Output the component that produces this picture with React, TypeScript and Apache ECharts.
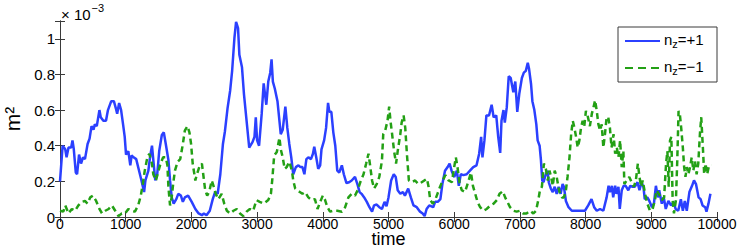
import React, { useEffect, useRef } from "react";
import * as echarts from "echarts";

// time axis ticks
const xTicks = [0, 1000, 2000, 3000, 4000, 5000, 6000, 7000, 8000, 9000, 10000];
const yTickLabels = ["0", "0.2", "0.4", "0.6", "0.8", "1"];

// n_z = +1 (values in units of 1e-3)
const tPlus = [0,40,80,100,130,170,190,210,240,260,290,320,350,380,420,450,480,510,530,560,600,620,660,700,730,780,820,850,870,900,930,960,985,1005,1040,1070,1090,1120,1160,1210,1240,1280,1300,1345,1370,1400,1420,1450,1480,1510,1550,1580,1610,1650,1675,1700,1730,1770,1800,1840,1870,1900,1950,2005,2060,2110,2160,2190,2230,2280,2325,2360,2400,2440,2480,2510,2550,2590,2620,2655,2680,2710,2730,2770,2800,2840,2880,2930,2960,2980,3000,3030,3070,3100,3140,3170,3200,3220,3240,3270,3310,3340,3360,3390,3430,3460,3490,3520,3550,3590,3630,3660,3690,3720,3750,3780,3820,3850,3870,3900,3930,3960,3980,4020,4050,4080,4100,4130,4160,4190,4220,4250,4290,4320,4360,4400,4440,4490,4530,4560,4590,4630,4670,4710,4750,4780,4820,4860,4900,4940,4970,5000,5040,5080,5110,5140,5180,5220,5250,5300,5340,5380,5430,5480,5520,5550,5580,5620,5680,5710,5750,5790,5820,5860,5900,5930,5960,6000,6040,6070,6100,6140,6190,6240,6290,6340,6380,6410,6430,6460,6490,6530,6570,6600,6640,6670,6700,6720,6750,6770,6800,6830,6860,6900,6930,6960,6990,7030,7060,7090,7120,7140,7170,7190,7220,7250,7270,7300,7320,7340,7360,7390,7420,7440,7470,7500,7530,7560,7590,7620,7650,7670,7700,7740,7790,7840,7920,7990,8040,8090,8130,8170,8220,8270,8320,8350,8370,8400,8420,8450,8470,8500,8520,8550,8580,8610,8650,8680,8710,8750,8790,8820,8850,8880,8900,8940,8970,9010,9040,9070,9100,9120,9160,9190,9220,9260,9300,9340,9370,9410,9450,9480,9510,9540,9580,9620,9650,9680,9720,9750,9780,9820,9840,9870,9900];
const vPlus = [0.2,0.4,0.38,0.335,0.39,0.39,0.43,0.38,0.25,0.24,0.35,0.3,0.335,0.325,0.41,0.44,0.51,0.49,0.52,0.51,0.6,0.56,0.54,0.54,0.6,0.65,0.65,0.61,0.58,0.64,0.6,0.52,0.45,0.35,0.37,0.29,0.345,0.335,0.325,0.25,0.205,0.14,0.205,0.26,0.335,0.4,0.32,0.205,0.24,0.37,0.46,0.475,0.41,0.32,0.205,0.11,0.075,0.1,0.13,0.12,0.085,0.11,0.12,0.085,0.045,0.02,0.01,0.02,0.01,0.035,0.1,0.14,0.13,0.24,0.41,0.48,0.61,0.71,0.82,1.005,1.095,1.06,0.91,0.84,0.69,0.54,0.39,0.42,0.45,0.56,0.43,0.4,0.58,0.75,0.63,0.76,0.81,0.885,0.76,0.72,0.65,0.54,0.465,0.49,0.62,0.5,0.41,0.335,0.24,0.28,0.29,0.28,0.28,0.24,0.325,0.335,0.325,0.355,0.395,0.335,0.27,0.29,0.38,0.43,0.5,0.64,0.59,0.59,0.475,0.4,0.26,0.25,0.29,0.24,0.19,0.195,0.205,0.225,0.18,0.14,0.13,0.11,0.085,0.055,0.03,0.065,0.07,0.055,0.045,0.085,0.06,0.11,0.205,0.24,0.225,0.15,0.13,0.14,0.12,0.16,0.11,0.065,0.055,0.03,0.02,0.005,0.045,0.065,0.055,0.085,0.085,0.1,0.185,0.26,0.28,0.3,0.26,0.225,0.26,0.175,0.24,0.235,0.24,0.26,0.28,0.29,0.355,0.45,0.335,0.43,0.57,0.57,0.63,0.56,0.57,0.45,0.36,0.54,0.6,0.53,0.615,0.79,0.78,0.7,0.76,0.59,0.69,0.78,0.81,0.82,0.865,0.83,0.745,0.65,0.6,0.52,0.43,0.4,0.32,0.205,0.195,0.235,0.26,0.195,0.16,0.14,0.17,0.13,0.17,0.13,0.185,0.17,0.09,0.055,0.035,0.035,0.035,0.035,0.065,0.1,0.055,0.035,0.045,0.035,0.11,0.175,0.14,0.175,0.11,0.175,0.13,0.17,0.045,0.15,0.175,0.175,0.15,0.175,0.17,0.17,0.195,0.15,0.195,0.17,0.1,0.11,0.09,0.055,0.075,0.175,0.11,0.15,0.075,0.11,0.045,0.09,0.065,0.085,0.045,0.035,0.1,0.035,0.09,0.035,0.14,0.175,0.205,0.185,0.11,0.1,0.065,0.055,0.03,0.075,0.13];

// n_z = -1 (values in units of 1e-3)
const tMinus = [0,50,80,130,180,230,280,330,380,420,460,500,550,600,640,690,740,790,840,890,940,990,1040,1090,1140,1190,1230,1260,1290,1330,1360,1400,1420,1460,1500,1530,1570,1610,1635,1650,1675,1700,1725,1750,1790,1830,1870,1900,1940,1970,1995,2020,2060,2080,2120,2160,2180,2210,2240,2270,2310,2340,2370,2410,2460,2500,2540,2590,2640,2690,2740,2790,2840,2890,2940,2990,3040,3100,3170,3210,3230,3260,3300,3340,3360,3390,3420,3450,3490,3530,3550,3580,3610,3650,3690,3730,3780,3830,3880,3920,3960,4000,4030,4070,4110,4160,4220,4290,4340,4390,4440,4490,4530,4570,4620,4660,4695,4720,4750,4780,4820,4860,4900,4920,4950,4985,5010,5030,5055,5085,5115,5140,5180,5200,5230,5255,5280,5310,5355,5405,5455,5505,5545,5585,5610,5635,5675,5710,5745,5785,5825,5865,5915,5965,6000,6025,6050,6080,6115,6165,6220,6255,6285,6320,6355,6395,6445,6495,6550,6600,6650,6690,6740,6775,6810,6850,6900,6950,7000,7050,7100,7155,7205,7245,7280,7305,7335,7365,7395,7425,7450,7475,7500,7530,7560,7585,7610,7640,7670,7700,7725,7755,7780,7805,7830,7855,7880,7905,7930,7955,7980,8005,8030,8065,8095,8120,8145,8170,8195,8220,8245,8270,8295,8320,8345,8370,8395,8425,8450,8475,8500,8525,8550,8575,8590,8625,8665,8700,8735,8765,8795,8820,8845,8870,8905,8940,8980,9020,9055,9080,9115,9160,9195,9225,9245,9265,9285,9305,9325,9345,9375,9395,9415,9435,9455,9480,9500,9520,9540,9565,9590,9615,9640,9665,9690,9715,9740,9760,9785,9805,9825,9850,9880,9910];
const vMinus = [0.035,0.03,0.065,0.02,0.045,0.035,0.065,0.085,0.09,0.075,0.11,0.12,0.09,0.045,0.02,0.035,0.045,0.065,0.035,0.005,0.02,0.02,0.045,0.035,0.03,0.065,0.12,0.185,0.26,0.335,0.355,0.3,0.24,0.205,0.26,0.3,0.335,0.335,0.29,0.17,0.065,0.11,0.195,0.26,0.31,0.325,0.41,0.485,0.51,0.475,0.41,0.3,0.205,0.235,0.28,0.3,0.24,0.15,0.12,0.14,0.205,0.17,0.13,0.1,0.13,0.075,0.035,0.02,0.035,0.045,0.02,0.005,0.03,0.045,0.035,0.095,0.085,0.075,0.095,0.13,0.205,0.345,0.365,0.445,0.38,0.335,0.27,0.28,0.31,0.26,0.205,0.16,0.15,0.14,0.13,0.14,0.11,0.095,0.1,0.045,0.085,0.12,0.1,0.055,0.03,0.035,0.035,0.03,0.055,0.11,0.13,0.12,0.15,0.195,0.24,0.3,0.355,0.29,0.205,0.16,0.185,0.225,0.315,0.465,0.485,0.54,0.62,0.54,0.465,0.37,0.3,0.37,0.465,0.53,0.57,0.5,0.355,0.205,0.195,0.205,0.185,0.195,0.205,0.215,0.17,0.095,0.075,0.095,0.13,0.17,0.205,0.235,0.205,0.195,0.28,0.335,0.28,0.195,0.15,0.14,0.205,0.25,0.175,0.13,0.085,0.055,0.035,0.045,0.065,0.075,0.095,0.13,0.145,0.11,0.085,0.055,0.035,0.03,0.035,0.02,0.02,0.035,0.02,0.035,0.095,0.15,0.17,0.3,0.27,0.205,0.26,0.225,0.175,0.26,0.225,0.17,0.13,0.11,0.11,0.15,0.225,0.335,0.465,0.54,0.5,0.45,0.39,0.43,0.5,0.54,0.51,0.595,0.57,0.51,0.58,0.615,0.655,0.595,0.52,0.485,0.52,0.39,0.465,0.56,0.56,0.5,0.39,0.465,0.355,0.39,0.335,0.43,0.28,0.37,0.185,0.205,0.225,0.195,0.17,0.205,0.3,0.225,0.17,0.205,0.13,0.075,0.035,0.045,0.095,0.15,0.13,0.095,0.11,0.3,0.37,0.17,0.43,0.45,0.095,0.02,0.095,0.315,0.595,0.575,0.5,0.39,0.28,0.225,0.28,0.24,0.28,0.335,0.26,0.315,0.24,0.3,0.465,0.56,0.39,0.24,0.3,0.24,0.29,0.29];

const seriesNames = ["n_z=+1", "n_z=-1"];

const FONT = "Liberation Sans, Arial, Helvetica, sans-serif";
const BLUE = "#2b40ff";
const GREEN = "#23a015";
const AXIS = "#3a3a3a";

export default function App() {
  const ref = useRef<HTMLDivElement>(null);
  useEffect(() => {
    if (!ref.current) return;
    const chart = echarts.init(ref.current, null, { renderer: "svg" });
    const axisLine = { show: true, lineStyle: { color: AXIS, width: 1 } };
    const tick = { show: true, inside: true, length: 5, lineStyle: { color: AXIS } };
    const yFmt = (v: number) => {
      const idx = Math.round(v / 0.2);
      if (Math.abs(v - idx * 0.2) > 1e-6 || idx > 5) return "";
      return yTickLabels[idx];
    };
    const legendRich = {
      n: { fontSize: 15, fontFamily: FONT, fill: "#000", lineHeight: 18 },
      z: { fontSize: 11, fontFamily: FONT, fill: "#000", lineHeight: 14, padding: [9, 0, 0, 0] },
      t: { fontSize: 15, fontFamily: FONT, fill: "#000", lineHeight: 18 },
    };
    chart.setOption({
      animation: false,
      backgroundColor: "#ffffff",
      textStyle: { fontFamily: FONT },
      grid: { left: 60, right: 30, top: 21, bottom: 32, containLabel: false, outerBoundsMode: "none" },
      graphic: [
        {
          type: "text",
          x: 61,
          y: 1,
          style: {
            text: "{a|\u00d7 10}{b|\u22123}",
            rich: {
              a: { fontSize: 15, fontFamily: FONT, fill: "#000", padding: [6, 0, 0, 0] },
              b: { fontSize: 11, fontFamily: FONT, fill: "#000", padding: [0, 0, 8, 1] },
            },
          },
          z: 10,
        },
        {
          type: "group",
          z: 10,
          children: [
            {
              type: "rect",
              shape: { x: 618, y: 27, width: 99, height: 55 },
              style: { fill: "#ffffff", stroke: AXIS, lineWidth: 1 },
              z: 10,
            },
            {
              type: "line",
              shape: { x1: 625, y1: 41, x2: 660, y2: 41 },
              style: { stroke: BLUE, lineWidth: 2 },
              z: 11,
            },
            {
              type: "line",
              shape: { x1: 625, y1: 68, x2: 660, y2: 68 },
              style: { stroke: GREEN, lineWidth: 2, lineDash: [8, 5] },
              z: 11,
            },
            {
              type: "text",
              x: 664,
              y: 30,
              style: { text: "{n|n}{z|z}{t|=+1}", rich: legendRich },
              z: 11,
            },
            {
              type: "text",
              x: 664,
              y: 57,
              style: { text: "{n|n}{z|z}{t|=\u22121}", rich: legendRich },
              z: 11,
            },
          ],
        },
      ],
      xAxis: [
        {
          type: "value",
          min: 0,
          max: 10000,
          interval: 1000,
          position: "bottom",
          name: "time",
          nameLocation: "middle",
          nameGap: 13,
          nameMoveOverlap: false,
          nameTextStyle: { fontSize: 18, lineHeight: 17, color: "#000", fontFamily: FONT },
          axisLine,
          axisTick: tick,
          axisLabel: { fontSize: 14, lineHeight: 13, color: "#000", margin: 0, fontFamily: FONT, formatter: (v: number) => (xTicks.includes(v) ? String(v) : "") },
          splitLine: { show: false },
        },
        {
          type: "value",
          min: 0,
          max: 10000,
          interval: 1000,
          position: "top",
          axisLine,
          axisTick: tick,
          axisLabel: { show: false },
          splitLine: { show: false },
        },
      ],
      yAxis: [
        {
          type: "value",
          min: 0,
          max: 1.1,
          interval: 0.2,
          position: "left",
          name: "m\u00b2",
          nameLocation: "middle",
          nameRotate: 90,
          nameGap: 37,
          nameMoveOverlap: false,
          nameTextStyle: { fontSize: 21, color: "#000", fontFamily: FONT },
          axisLine,
          axisTick: tick,
          axisLabel: { fontSize: 15, color: "#000", margin: 5, fontFamily: FONT, formatter: yFmt },
          splitLine: { show: false },
        },
        {
          type: "value",
          min: 0,
          max: 1.1,
          interval: 0.2,
          position: "right",
          axisLine,
          axisTick: tick,
          axisLabel: { show: false },
          splitLine: { show: false },
        },
      ],
      series: [
        {
          name: seriesNames[0],
          type: "line",
          xAxisIndex: 0,
          yAxisIndex: 0,
          data: tPlus.map((t, i) => [t, vPlus[i]]),
          showSymbol: false,
          symbol: "none",
          lineStyle: { color: BLUE, width: 2.5 },
          itemStyle: { color: BLUE },
        },
        {
          name: seriesNames[1],
          type: "line",
          xAxisIndex: 0,
          yAxisIndex: 0,
          data: tMinus.map((t, i) => [t, vMinus[i]]),
          showSymbol: false,
          symbol: "none",
          lineStyle: { color: GREEN, width: 2.5, type: [6, 4] },
          itemStyle: { color: GREEN },
        },
      ],
    });
    return () => chart.dispose();
  }, []);
  return <div ref={ref} style={{ width: 747, height: 249, position: "absolute", left: 0, top: 0 }} />;
}
